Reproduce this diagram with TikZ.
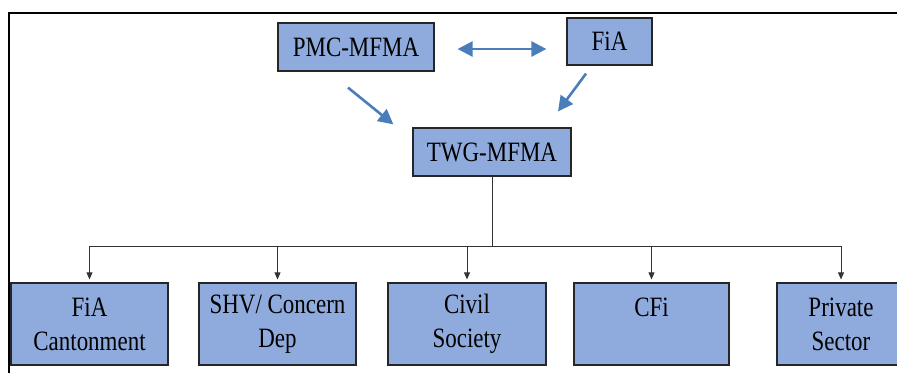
\documentclass[tikz,border=0pt]{standalone}
\usepackage{fontspec}
\setmainfont{Liberation Serif}[FakeStretch=0.82]
\usetikzlibrary{arrows.meta,calc}
\definecolor{boxfill}{HTML}{8FAADC}
\definecolor{arrowblue}{HTML}{4A7EBB}
\begin{document}
\begin{tikzpicture}[x=1pt,y=-1pt,
  orgbox/.style={draw=black!85, line width=1.2pt, fill=boxfill, inner sep=0pt,
    align=center, font=\fontsize{28}{34}\selectfont},
  bluearrow/.style={draw=arrowblue, line width=2.6pt, -{Triangle[length=15pt,width=15pt]}},
  bluedouble/.style={draw=arrowblue, line width=2.6pt, {Triangle[length=15pt,width=15pt]}-{Triangle[length=15pt,width=15pt]}},
  thinarrow/.style={draw=black!80, line width=0.8pt, -{Triangle[length=7pt,width=6pt]}},
  thinline/.style={draw=black!80, line width=0.8pt}]
\useasboundingbox (0,0) rectangle (897,373);
\clip (0,0) rectangle (897,373);
\fill[white] (0,0) rectangle (897,373);
% frame
\draw[line width=2pt] (9,373) -- (9,13) -- (897,13);
% top nodes
\node[orgbox, minimum width=156pt, minimum height=48pt] (pmc) at (356,47) {PMC-MFMA};
\node[orgbox, minimum width=85pt, minimum height=47pt] (fia) at (609.5,41.5) {FiA};
\node[orgbox, minimum width=158pt, minimum height=48pt] (twg) at (492,152) {TWG-MFMA};
% bottom nodes
\node[orgbox, minimum width=157pt, minimum height=82pt] (b1) at (89.5,324) {FiA\\Cantonment};
\node[orgbox, minimum width=157pt, minimum height=82pt] (b2) at (277.5,324) {SHV/ Concern\\Dep};
\node[orgbox, minimum width=158pt, minimum height=82pt] (b3) at (467,324) {Civil\\Society};
\node[orgbox, minimum width=155pt, minimum height=82pt] (b4) at (651.5,324) {CFi\\\mbox{}};
\node[orgbox, minimum width=128pt, minimum height=82pt] (b5) at (841,324) {Private\\Sector};
% blue arrows
\draw[bluedouble] ($(pmc.east)+(23,2)$) -- ($(fia.west)+(-20,7.5)$);
\draw[bluearrow] ($(pmc.south)+(-8,16)$) -- ($(twg.north west)+(-19,-3)$);
\draw[bluearrow] ($(fia.south)+(-23.5,8)$) -- ($(twg.north)+(66,-16)$);
% tree connectors
\coordinate (hy) at (0,246);
\draw[thinline] (twg.south) -- (twg.south |- hy);
\draw[thinline] (b1.north |- hy) -- (b5.north |- hy);
\foreach \b in {b1,b2,b3,b4,b5}
  \draw[thinarrow] (\b.north |- hy) -- ($(\b.north)+(0,-3)$);
\end{tikzpicture}
\end{document}
